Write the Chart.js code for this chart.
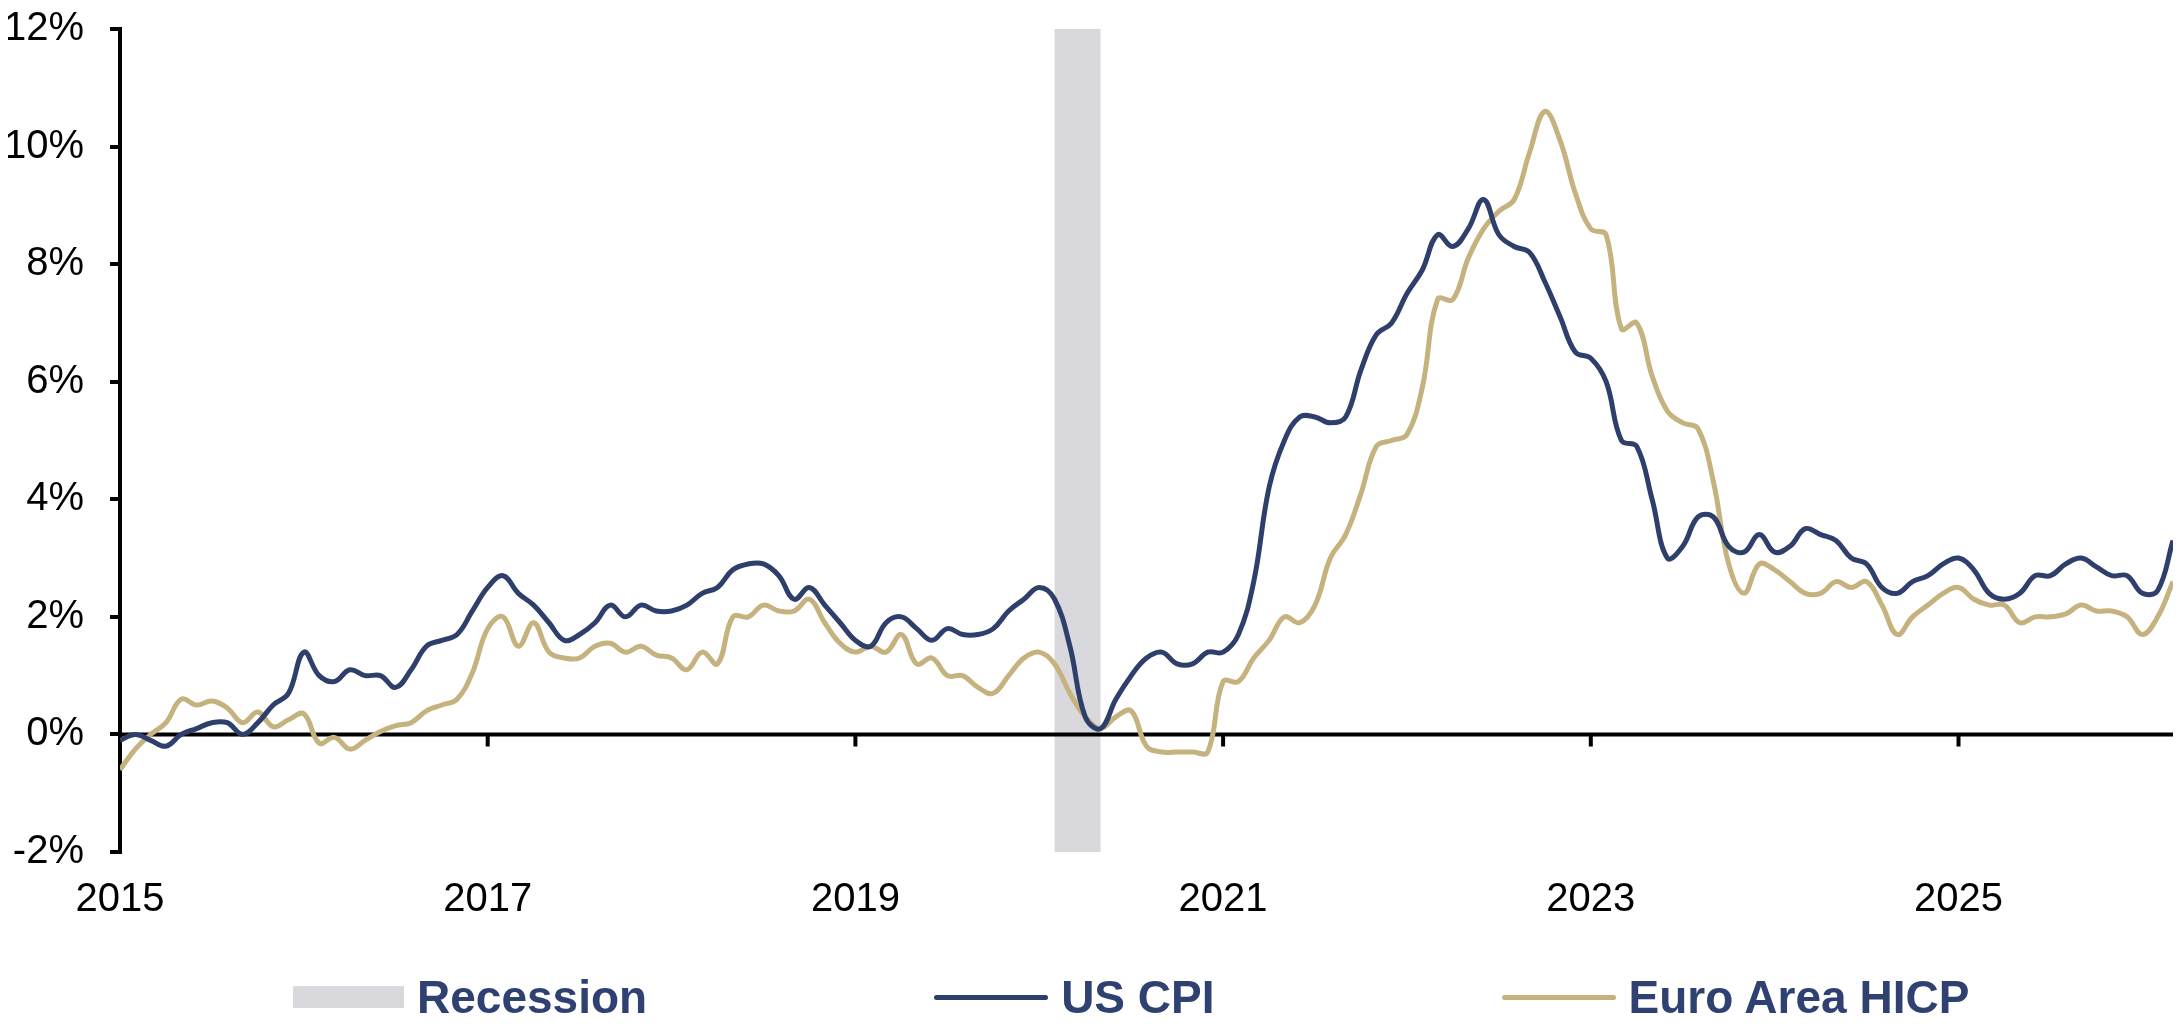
<!DOCTYPE html>
<html>
<head>
<meta charset="utf-8">
<title>US CPI vs Euro Area HICP</title>
<script src="https://cdn.jsdelivr.net/npm/chart.js@4.4.1/dist/chart.umd.min.js"></script>
<style>
  body { margin: 0; background: #fff; }
  #wrap { position: relative; width: 2184px; height: 1028px; }
  #legend {
    position: absolute; left: 293px; top: 974px;
    display: flex; align-items: center; gap: 287px;
    font-family: 'Liberation Sans', Arial, sans-serif; font-weight: bold;
    font-size: 46px; line-height: 46px; color: #2f4170; white-space: nowrap;
  }
  .item { display: flex; align-items: center; }
  .swatch { margin-right: 13px; }
</style>
</head>
<body>
<div id="wrap">
  <canvas id="myChart"></canvas>
  <div id="legend"></div>
</div>
<script>
// monthly year-over-year %, first value is January 2015
const startYear = 2015;
const usCpi = [
  -0.1, 0.0, -0.1, -0.2, 0.0, 0.1, 0.2, 0.2, 0.0, 0.2, 0.5, 0.7,
  1.4, 1.0, 0.9, 1.1, 1.0, 1.0, 0.8, 1.1, 1.5, 1.6, 1.7, 2.1,
  2.5, 2.7, 2.4, 2.2, 1.9, 1.6, 1.7, 1.9, 2.2, 2.0, 2.2, 2.1,
  2.1, 2.2, 2.4, 2.5, 2.8, 2.9, 2.9, 2.7, 2.3, 2.5, 2.2, 1.9,
  1.6, 1.5, 1.9, 2.0, 1.8, 1.6, 1.8, 1.7, 1.7, 1.8, 2.1, 2.3,
  2.5, 2.3, 1.5, 0.3, 0.1, 0.6, 1.0, 1.3, 1.4, 1.2, 1.2, 1.4,
  1.4, 1.7, 2.6, 4.2, 5.0, 5.4, 5.4, 5.3, 5.4, 6.2, 6.8, 7.0,
  7.5, 7.9, 8.5, 8.3, 8.6, 9.1, 8.5, 8.3, 8.2, 7.7, 7.1, 6.5,
  6.4, 6.0, 5.0, 4.9, 4.0, 3.0, 3.2, 3.7, 3.7, 3.2, 3.1, 3.4,
  3.1, 3.2, 3.5, 3.4, 3.3, 3.0, 2.9, 2.5, 2.4, 2.6, 2.7, 2.9,
  3.0, 2.8, 2.4, 2.3, 2.4, 2.7, 2.7, 2.9, 3.0, 2.85, 2.7, 2.7,
  2.4, 2.45, 3.3
];
const euroHicp = [
  -0.6, -0.25, 0.0, 0.2, 0.6, 0.5, 0.57, 0.45, 0.2, 0.38, 0.13, 0.25,
  0.35, -0.15, -0.05, -0.25, -0.1, 0.05, 0.15, 0.2, 0.4, 0.5, 0.6, 1.05,
  1.8, 2.0, 1.5, 1.9, 1.4, 1.3, 1.3, 1.5, 1.55, 1.4, 1.5, 1.35,
  1.3, 1.1, 1.4, 1.2, 2.0, 2.0, 2.2, 2.1, 2.1, 2.3, 1.9, 1.55,
  1.4, 1.5, 1.4, 1.7, 1.2, 1.3, 1.0, 1.0, 0.8, 0.7, 1.0, 1.3,
  1.4, 1.2, 0.7, 0.3, 0.1, 0.3, 0.4, -0.2, -0.3, -0.3, -0.3, -0.3,
  0.9, 0.9, 1.3, 1.6, 2.0, 1.9, 2.2, 3.0, 3.4, 4.1, 4.9, 5.0,
  5.1, 5.9, 7.4, 7.4, 8.1, 8.6, 8.9, 9.1, 9.9, 10.6, 10.1, 9.2,
  8.6, 8.5, 6.9, 7.0, 6.1, 5.5, 5.3, 5.2, 4.3, 2.9, 2.4, 2.9,
  2.8, 2.6, 2.4, 2.4, 2.6, 2.5, 2.6, 2.2, 1.7, 2.0, 2.2, 2.4,
  2.5, 2.3, 2.2, 2.2, 1.9, 2.0, 2.0, 2.05, 2.2, 2.1, 2.1, 2.0,
  1.7, 2.0, 2.6
];
const recessionMonths = ['2020-02', '2020-04'];   // first and last month, inclusive
const xTickYears = [2015, 2017, 2019, 2021, 2023, 2025];
const yMin = -2, yMax = 12, yStep = 2;

const navy = '#2f3f6b';
const tan = '#c6b27f';
const grey = '#d9d8dc';
const tickFont = { family: "'Liberation Sans', Arial, sans-serif", size: 40 };

function monthToYear(s, endOfMonth) {
    var parts = s.split('-');
    return +parts[0] + (+parts[1] - (endOfMonth ? 0 : 1)) / 12;
}
function toPoints(arr) {
    return arr.map(function (v, i) { return { x: startYear + i / 12, y: v }; });
}

const recStart = monthToYear(recessionMonths[0], false);
const recEnd = monthToYear(recessionMonths[1], true);

// recession shading + the horizontal axis line at 0% with its tick marks
const zeroAxis = {
    id: 'zeroAxis',
    beforeDatasetsDraw(chart) {
        const ctx = chart.ctx, area = chart.chartArea;
        const x = chart.scales.x, y = chart.scales.y;
        ctx.save();
        const x0 = x.getPixelForValue(recStart), x1 = x.getPixelForValue(recEnd);
        ctx.fillStyle = grey;
        ctx.fillRect(x0, area.top, x1 - x0, area.bottom - area.top);

        const y0 = y.getPixelForValue(0);
        ctx.strokeStyle = '#000';
        ctx.lineWidth = 4;
        ctx.beginPath();
        ctx.moveTo(area.left, y0);
        ctx.lineTo(area.right, y0);
        xTickYears.forEach(function (v) {
            const px = x.getPixelForValue(v);
            ctx.moveTo(px, y0);
            ctx.lineTo(px, y0 + 12);
        });
        ctx.stroke();
        ctx.restore();
    }
};

const ctx = document.getElementById('myChart');
new Chart(ctx, {
    type: 'line',
    data: {
        datasets: [{
            label: 'US CPI',
            data: toPoints(usCpi),
            borderColor: navy,
            borderWidth: 5,
            pointRadius: 0,
            tension: 0.4
        }, {
            label: 'Euro Area HICP',
            data: toPoints(euroHicp),
            borderColor: tan,
            borderWidth: 5,
            pointRadius: 0,
            tension: 0.4
        }]
    },
    options: {
        responsive: true,
        maintainAspectRatio: false,
        animation: false,
        layout: { padding: { left: 8, right: 11, top: 0, bottom: 80 } },
        plugins: {
            legend: { display: false },
            tooltip: { enabled: false }
        },
        scales: {
            x: {
                type: 'linear',
                min: startYear,
                max: startYear + (usCpi.length - 1) / 12,
                afterBuildTicks: function (scale) {
                    scale.ticks = xTickYears.map(function (v) { return { value: v }; });
                },
                grid: { display: false, drawTicks: false },
                border: { display: false },
                ticks: {
                    font: tickFont, color: '#000', padding: 24,
                    maxRotation: 0, autoSkip: false,
                    callback: function (v) { return String(v); }
                }
            },
            y: {
                min: yMin,
                max: yMax,
                afterFit: function (scale) {
                    scale.width = 112;
                    scale.paddingTop = 29;
                    scale.paddingBottom = 24;
                },
                ticks: {
                    stepSize: yStep, font: tickFont, color: '#000', padding: 26,
                    callback: function (v) { return v + '%'; }
                },
                grid: { drawOnChartArea: false, drawTicks: true, tickLength: 10, lineWidth: 4, color: '#000' },
                border: { display: true, width: 4, color: '#000' }
            }
        }
    },
    plugins: [zeroAxis]
});

// legend
const legendItems = [
    { name: 'Recession', color: grey, kind: 'box' },
    { name: 'US CPI', color: navy, kind: 'line' },
    { name: 'Euro Area HICP', color: tan, kind: 'line' }
];
const legend = document.getElementById('legend');
legendItems.forEach(function (item) {
    const el = document.createElement('div');
    el.className = 'item';
    const sw = document.createElement('span');
    sw.className = 'swatch';
    sw.style.background = item.color;
    sw.style.display = 'inline-block';
    if (item.kind === 'box') {
        sw.style.width = '111px'; sw.style.height = '22px';
    } else {
        sw.style.width = '114px'; sw.style.height = '5px'; sw.style.borderRadius = '3px';
    }
    const txt = document.createElement('span');
    txt.textContent = item.name;
    el.appendChild(sw);
    el.appendChild(txt);
    legend.appendChild(el);
});
</script>
</body>
</html>
